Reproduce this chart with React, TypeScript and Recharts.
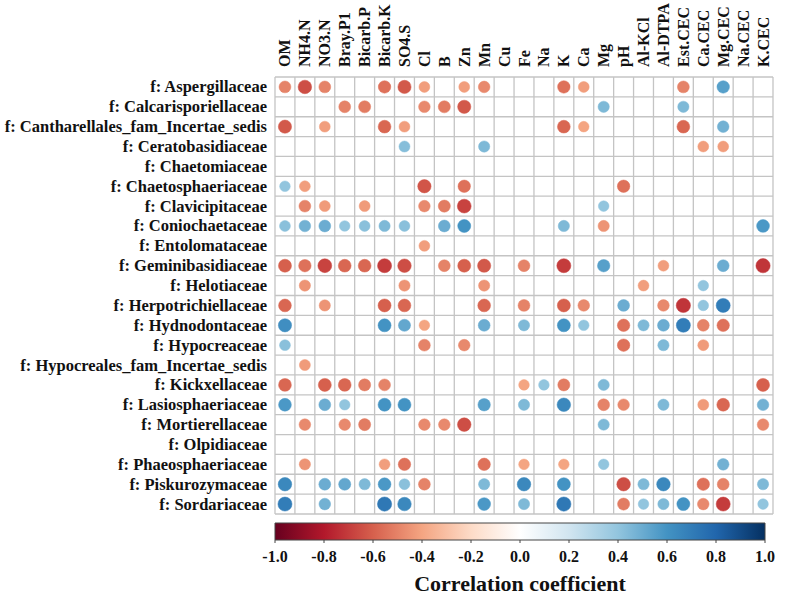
import React from 'react';
import { ScatterChart, Scatter, XAxis, YAxis, CartesianGrid, ComposedChart, Line, ReferenceArea } from 'recharts';

const COLUMNS = ['OM', 'NH4.N', 'NO3.N', 'Bray.P1', 'Bicarb.P', 'Bicarb.K', 'SO4.S', 'Cl', 'B', 'Zn', 'Mn', 'Cu', 'Fe', 'Na', 'K', 'Ca', 'Mg', 'pH', 'Al-KCl', 'Al-DTPA', 'Est.CEC', 'Ca.CEC', 'Mg.CEC', 'Na.CEC', 'K.CEC'];

const FAMILIES = [
    'f: Aspergillaceae', 'f: Calcarisporiellaceae', 'f: Cantharellales_fam_Incertae_sedis', 'f: Ceratobasidiaceae',
    'f: Chaetomiaceae', 'f: Chaetosphaeriaceae', 'f: Clavicipitaceae', 'f: Coniochaetaceae', 'f: Entolomataceae',
    'f: Geminibasidiaceae', 'f: Helotiaceae', 'f: Herpotrichiellaceae', 'f: Hydnodontaceae', 'f: Hypocreaceae',
    'f: Hypocreales_fam_Incertae_sedis', 'f: Kickxellaceae', 'f: Lasiosphaeriaceae', 'f: Mortierellaceae',
    'f: Olpidiaceae', 'f: Phaeosphaeriaceae', 'f: Piskurozymaceae', 'f: Sordariaceae',
];

// one array per family, values in COLUMNS order, 0 = blank cell
const ASPERGILLACEAE = [-0.5, -0.65, -0.5, 0, 0, -0.55, -0.62, -0.42, 0, -0.42, -0.48, 0, 0, 0, -0.55, -0.42, 0, 0, 0, 0, -0.5, 0, 0.55, 0, 0];
const CALCARISPORIELLACEAE = [0, 0, 0, -0.5, -0.52, 0, 0, -0.48, -0.52, -0.62, 0, 0, 0, 0, 0, 0, 0.45, 0, 0, 0, 0.45, 0, 0, 0, 0];
const CANTHARELLALES = [-0.62, 0, -0.42, 0, 0, -0.58, -0.42, 0, 0, 0, 0, 0, 0, 0, -0.58, -0.4, 0, 0, 0, 0, -0.58, 0, 0.48, 0, 0];
const CERATOBASIDIACEAE = [0, 0, 0, 0, 0, 0, 0.43, 0, 0, 0, 0.45, 0, 0, 0, 0, 0, 0, 0, 0, 0, 0, -0.42, -0.42, 0, 0];
const CHAETOMIACEAE = [0, 0, 0, 0, 0, 0, 0, 0, 0, 0, 0, 0, 0, 0, 0, 0, 0, 0, 0, 0, 0, 0, 0, 0, 0];
const CHAETOSPHAERIACEAE = [0.4, -0.42, 0, 0, 0, 0, 0, -0.63, 0, -0.55, 0, 0, 0, 0, 0, 0, 0, -0.55, 0, 0, 0, 0, 0, 0, 0];
const CLAVICIPITACEAE = [0, -0.5, -0.43, 0, -0.43, 0, 0, -0.48, -0.52, -0.68, 0, 0, 0, 0, 0, 0, 0.4, 0, 0, 0, 0, 0, 0, 0, 0];
const CONIOCHAETACEAE = [0.42, 0.48, 0.5, 0.4, 0.42, 0.45, 0.42, 0, 0.5, 0.6, 0, 0, 0, 0, 0.45, 0, -0.45, 0, 0, 0, 0, 0, 0, 0, 0.58];
const ENTOLOMATACEAE = [0, 0, 0, 0, 0, 0, 0, -0.42, 0, 0, 0, 0, 0, 0, 0, 0, 0, 0, 0, 0, 0, 0, 0, 0, 0];
const GEMINIBASIDIACEAE = [-0.6, -0.55, -0.68, -0.58, -0.58, -0.7, -0.65, 0, -0.5, -0.6, -0.62, 0, -0.5, 0, -0.7, 0, 0.55, 0, 0, -0.42, 0, 0, 0.5, 0, -0.72];
const HELOTIACEAE = [0, -0.45, 0, 0, 0, 0, -0.45, 0, 0, 0, -0.45, 0, 0, 0, 0, 0, 0, 0, -0.42, 0, 0, 0.4, 0, 0, 0];
const HERPOTRICHIELLACEAE = [-0.58, 0, -0.45, 0, 0, -0.6, -0.58, 0, 0, 0, -0.58, 0, -0.5, 0, -0.6, -0.48, 0, 0.5, 0, -0.48, -0.72, 0.4, 0.7, 0, 0];
const HYDNODONTACEAE = [0.62, 0, 0, 0, 0, 0.6, 0.52, -0.4, 0, 0, 0.5, 0, 0.45, 0, 0.6, 0.4, 0, -0.55, 0.45, 0.5, 0.7, -0.5, -0.55, 0, 0];
const HYPOCREACEAE = [0.42, 0, 0, 0, 0, 0, 0, -0.5, 0, -0.48, 0, 0, 0, 0, 0, 0, 0, -0.55, 0, 0.45, 0, -0.43, 0, 0, 0];
const HYPOCREALES = [0, -0.43, 0, 0, 0, 0, 0, 0, 0, 0, 0, 0, 0, 0, 0, 0, 0, 0, 0, 0, 0, 0, 0, 0, 0];
const KICKXELLACEAE = [-0.58, 0, -0.6, -0.58, -0.52, -0.5, 0, 0, 0, 0, 0, 0, -0.4, 0.4, -0.52, 0, 0.45, 0, 0, 0, 0, 0, 0, 0, -0.6];
const LASIOSPHAERIACEAE = [0.58, 0, 0.5, 0.4, 0, 0.6, 0.6, 0, 0, 0, 0.55, 0, 0.45, 0, 0.65, 0, -0.5, -0.48, 0, 0.45, 0, -0.43, -0.58, 0, 0.48];
const MORTIERELLACEAE = [0, -0.48, 0, -0.48, -0.52, 0, 0, -0.48, -0.48, -0.65, 0, 0, 0, 0, 0, 0, 0.45, 0, 0, 0, 0, 0, 0, 0, -0.48];
const OLPIDIACEAE = [0, 0, 0, 0, 0, 0, 0, 0, 0, 0, 0, 0, 0, 0, 0, 0, 0, 0, 0, 0, 0, 0, 0, 0, 0];
const PHAEOSPHAERIACEAE = [0, -0.45, 0, 0, 0, -0.42, -0.55, 0, 0, 0, -0.55, 0, -0.4, 0, -0.4, 0, 0.4, 0, 0, 0, 0, 0, 0.48, 0, 0];
const PISKUROZYMACEAE = [0.65, 0, 0.5, 0.52, 0.45, 0.58, 0.42, -0.5, 0, 0, 0.45, 0, 0.65, 0, 0.6, 0, 0, -0.65, 0.45, 0.65, 0, -0.55, -0.5, 0, 0.45];
const SORDARIACEAE = [0.7, 0, 0.48, 0, 0, 0.72, 0.65, 0, 0, 0, 0.58, 0, 0.45, 0, 0.72, 0, 0, -0.52, 0.4, 0.45, 0.6, -0.48, -0.7, 0, 0.4];

const ROW_VALUES = [
    ASPERGILLACEAE, CALCARISPORIELLACEAE, CANTHARELLALES, CERATOBASIDIACEAE, CHAETOMIACEAE, CHAETOSPHAERIACEAE,
    CLAVICIPITACEAE, CONIOCHAETACEAE, ENTOLOMATACEAE, GEMINIBASIDIACEAE, HELOTIACEAE, HERPOTRICHIELLACEAE,
    HYDNODONTACEAE, HYPOCREACEAE, HYPOCREALES, KICKXELLACEAE, LASIOSPHAERIACEAE, MORTIERELLACEAE, OLPIDIACEAE,
    PHAEOSPHAERIACEAE, PISKUROZYMACEAE, SORDARIACEAE,
];

const COLORBAR_TICKS = [-1, -0.8, -0.6, -0.4, -0.2, 0, 0.2, 0.4, 0.6, 0.8, 1];

const RDBU = ['#67001F', '#B2182B', '#D6604D', '#F4A582', '#FDDBC7', '#FFFFFF', '#D1E5F0', '#92C5DE', '#4393C3', '#2166AC', '#053061'];
const FONT = "'Liberation Serif', 'Times New Roman', serif";

const hexToRgb = (h: string) => [1, 3, 5].map(i => parseInt(h.slice(i, i + 2), 16));

const corrColor = (v: number) => {
    const t = ((v + 1) / 2) * 10;
    const i = Math.min(9, Math.floor(t));
    const f = t - i;
    const a = hexToRgb(RDBU[i]);
    const b = hexToRgb(RDBU[i + 1]);
    const c = a.map((x, k) => Math.round(x + (b[k] - x) * f));
    return `rgb(${c[0]},${c[1]},${c[2]})`;
};

const points = ROW_VALUES.flatMap((row, ri) =>
    row.map((v, ci) => ({ x: ci, y: ri, v })).filter(p => p.v !== 0)
);

const colBounds = Array.from({ length: COLUMNS.length + 1 }, (_, i) => i - 0.5);
const rowBounds = Array.from({ length: FAMILIES.length + 1 }, (_, i) => i - 0.5);

// colorbar needs something on the y axis so the reference area has a scale
const colorbarData = COLORBAR_TICKS.map((t, i) => ({ t, y: i / (COLORBAR_TICKS.length - 1) }));

const CorrCircle = (props: any) => {
    const { cx, cy, payload } = props;
    const r = 8.4 * Math.sqrt(Math.abs(payload.v));
    const col = corrColor(payload.v);
    return <circle cx={cx} cy={cy} r={r} fill={col} stroke={col} strokeWidth={0.5} />;
};

const RowTick = (props: any) => {
    const { x, y, payload } = props;
    return (
        <text x={x} y={y} textAnchor="end" dominantBaseline="central" fontFamily={FONT} fontWeight="bold" fontSize={16.5} fill="#111">
            {FAMILIES[payload.value]}
        </text>
    );
};

const ColTick = (props: any) => {
    const { x, y, payload } = props;
    return (
        <text x={x} y={y} transform={`rotate(-90, ${x}, ${y})`} textAnchor="start" dominantBaseline="central" fontFamily={FONT} fontWeight="bold" fontSize={16} fill="#111">
            {COLUMNS[payload.value]}
        </text>
    );
};

export default function App() {
    return (
        <div style={{ position: 'absolute', left: 0, top: 0, width: 791, height: 597, background: '#fff' }}>
            <div style={{ position: 'absolute', left: 0, top: 0 }}>
                <ScatterChart width={791} height={520} margin={{ top: 5, right: 18, bottom: 6, left: 5 }}>
                    <CartesianGrid
                        stroke="#c4c4c4"
                        strokeWidth={1.3}
                        verticalValues={colBounds}
                        horizontalValues={rowBounds}
                    />
                    <XAxis
                        type="number"
                        dataKey="x"
                        orientation="top"
                        domain={[-0.5, COLUMNS.length - 0.5]}
                        ticks={COLUMNS.map((_, i) => i)}
                        interval={0}
                        height={72}
                        tickSize={0}
                        tickMargin={10}
                        axisLine={false}
                        tickLine={false}
                        tick={<ColTick />}
                    />
                    <YAxis
                        type="number"
                        dataKey="y"
                        reversed
                        domain={[-0.5, FAMILIES.length - 0.5]}
                        ticks={FAMILIES.map((_, i) => i)}
                        interval={0}
                        width={270}
                        tickSize={0}
                        tickMargin={8}
                        axisLine={false}
                        tickLine={false}
                        tick={<RowTick />}
                    />
                    <Scatter data={points} shape={<CorrCircle />} isAnimationActive={false} />
                </ScatterChart>
            </div>
            <div style={{ position: 'absolute', left: 0, top: 520 }}>
                <ComposedChart width={791} height={77} data={colorbarData} margin={{ top: 3, right: 26, bottom: 0, left: 275 }}>
                    <defs>
                        <linearGradient id="cbGrad" x1="0" y1="0" x2="1" y2="0">
                            {RDBU.map((c, i) => (
                                <stop key={i} offset={`${i * 10}%`} stopColor={c} />
                            ))}
                        </linearGradient>
                    </defs>
                    <XAxis
                        type="number"
                        dataKey="t"
                        domain={[-1, 1]}
                        ticks={COLORBAR_TICKS}
                        interval={0}
                        height={57}
                        tickSize={3}
                        tickMargin={8}
                        axisLine={false}
                        tickLine={{ stroke: '#444' }}
                        tickFormatter={(v: number) => v.toFixed(1)}
                        tick={{ fontFamily: FONT, fontWeight: 'bold', fontSize: 16, fill: '#111' }}
                        label={{ value: 'Correlation coefficient', position: 'insideBottom', offset: 6, fontFamily: FONT, fontWeight: 'bold', fontSize: 22, fill: '#111' }}
                    />
                    <YAxis hide type="number" domain={[0, 1]} />
                    <Line dataKey="y" stroke="none" dot={false} activeDot={false} isAnimationActive={false} />
                    <ReferenceArea x1={-1} x2={1} y1={0} y2={1} ifOverflow="visible" fill="url(#cbGrad)" fillOpacity={1} stroke="#444" strokeWidth={1} />
                </ComposedChart>
            </div>
        </div>
    );
}
